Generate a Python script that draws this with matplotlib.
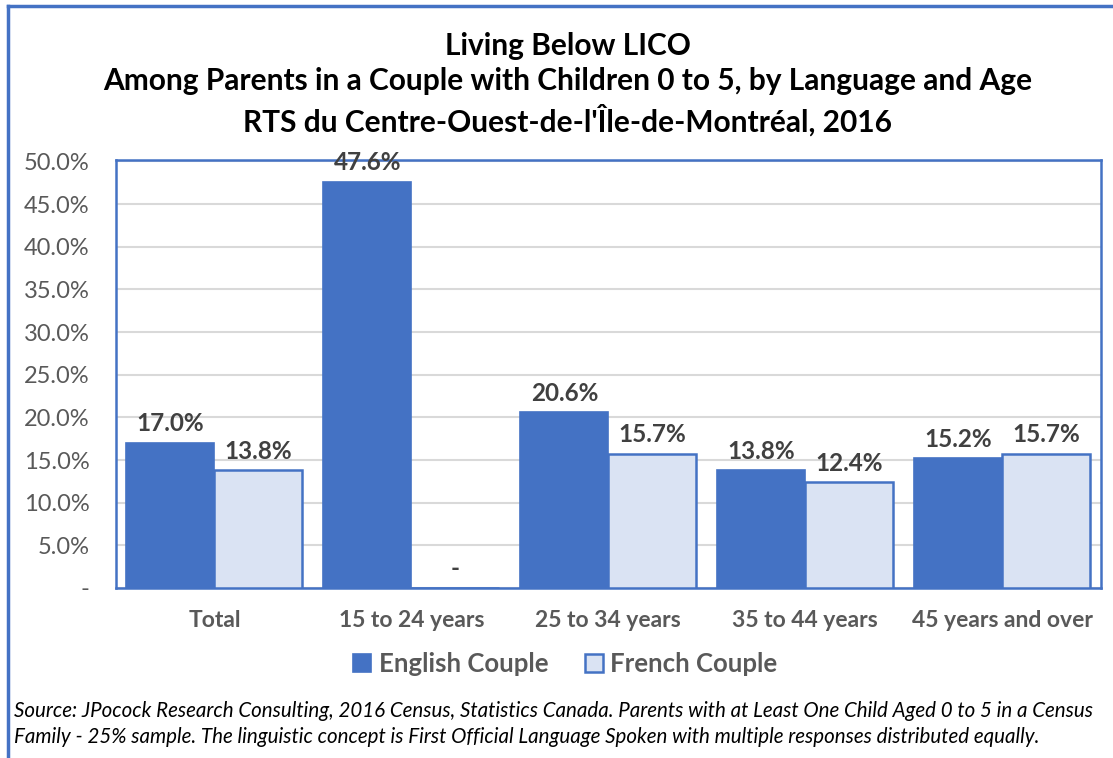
"""Living below LICO among parents in a couple, by language and age."""

import matplotlib
matplotlib.use("Agg")
import matplotlib.pyplot as plt
import numpy as np
from matplotlib.lines import Line2D
from matplotlib.ticker import FuncFormatter

categories = ["Total", "15 to 24 years", "25 to 34 years", "35 to 44 years", "45 years and over"]
english = [0.170, 0.476, 0.206, 0.138, 0.152]
french = [0.138, 0.0, 0.157, 0.124, 0.157]
series_names = ["English Couple", "French Couple"]

title = ("Living Below LICO\n"
         "Among Parents in a Couple with Children 0 to 5, by Language and Age\n"
         "RTS du Centre-Ouest-de-l'Île-de-Montréal, 2016")
source = ("Source: JPocock Research Consulting, 2016 Census, Statistics Canada. Parents with at Least One Child Aged 0 to 5 in a Census\n"
          "Family - 25% sample. The linguistic concept is First Official Language Spoken with multiple responses distributed equally.")

BLUE = "#4472C4"
LIGHT = "#DAE3F3"
GRAY = "#595959"
DARK = "#404040"

plt.rcParams["font.family"] = ["Lato", "DejaVu Sans"]

fig = plt.figure(figsize=(11.13, 7.58), dpi=100)
ax = fig.add_axes([0.1042, 0.2243, 0.8848, 0.5650])

x = np.arange(len(categories))
w = 0.447
b1 = ax.bar(x - w / 2, english, w, color=BLUE, edgecolor=BLUE, linewidth=1.2,
            label=series_names[0], zorder=3)
b2 = ax.bar(x + w / 2, french, w, color=LIGHT, edgecolor=BLUE, linewidth=1.8,
            label=series_names[1], zorder=3)

def fmt(v):
    return "-" if v == 0 else f"{v * 100:.1f}%"

for bars, vals in ((b1, english), (b2, french)):
    for r, v in zip(bars, vals):
        ax.text(r.get_x() + r.get_width() / 2, v + 0.009, fmt(v), ha="center",
                va="bottom", fontsize=17.5, fontweight="bold", color=DARK, zorder=4)

ax.set_xlim(-0.5, len(categories) - 0.5)
ax.set_ylim(0, 0.502)
ax.set_yticks(np.arange(0, 0.501, 0.05))
ax.yaxis.set_major_formatter(FuncFormatter(lambda v, p: "-" if v == 0 else f"{v * 100:.1f}%"))
ax.tick_params(axis="y", length=0, labelsize=17, labelcolor=GRAY, pad=19)
ax.set_xticks(x)
ax.set_xticklabels(categories, fontsize=16.5, fontweight="bold", color=GRAY)
ax.tick_params(axis="x", length=0, pad=16)
ax.grid(axis="y", color="#D9D9D9", linewidth=1.5, zorder=0)
for s in ax.spines.values():
    s.set_color(BLUE)
    s.set_linewidth(1.8)

fig.text(0.51, 0.958, title, ha="center", va="top", fontsize=21.5, fontweight="bold",
         color="black", linespacing=1.32)

leg = fig.legend(loc="center", bbox_to_anchor=(0.508, 0.124), ncol=2, frameon=False,
                 prop={"size": 18.5, "weight": "bold"}, handlelength=0.7, handleheight=0.7,
                 columnspacing=1.4, handletextpad=0.3)
for t in leg.get_texts():
    t.set_color(GRAY)

fig.text(0.013, 0.045, source, ha="left", va="center", fontsize=14.8, style="italic",
         color="black", linespacing=1.38)

# outer frame (top and left only, as cropped in the original)
fig.add_artist(Line2D([0.0072, 1.0], [0.992, 0.992], transform=fig.transFigure, color=BLUE, lw=2.5))
fig.add_artist(Line2D([0.0072, 0.0072], [0.0, 0.992], transform=fig.transFigure, color=BLUE, lw=2.5))

fig.savefig("out.png", dpi=100)
